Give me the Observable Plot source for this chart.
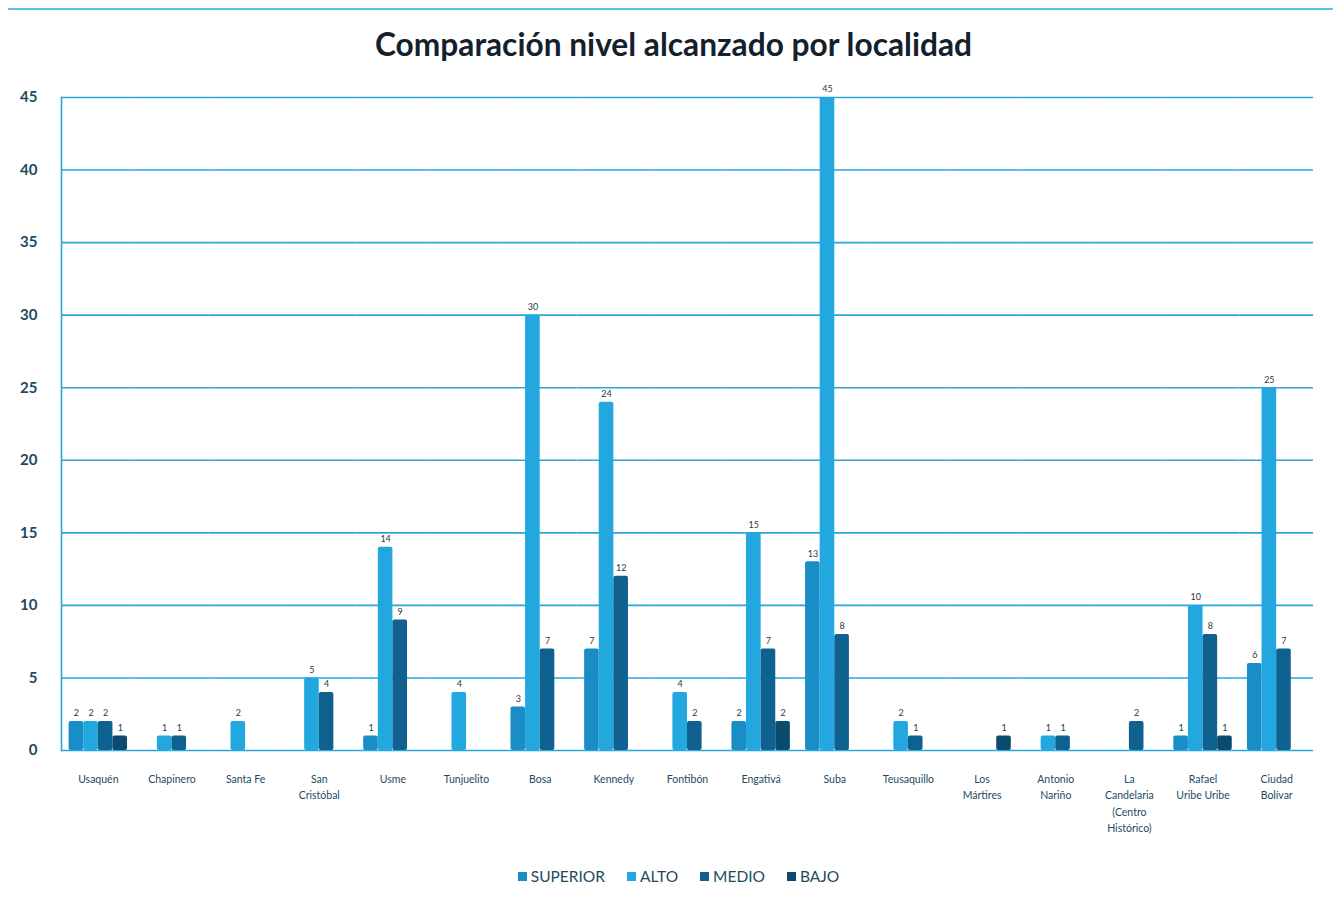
<!DOCTYPE html>
<html>
<head>
<meta charset="utf-8">
<script src="https://cdn.jsdelivr.net/npm/d3@7"></script>
<script src="https://cdn.jsdelivr.net/npm/@observablehq/plot@0.6"></script>
<style>
  html, body { margin: 0; padding: 0; background: #ffffff; }
  body { width: 1333px; height: 899px; position: relative; font-family: Lato, "Open Sans", sans-serif; overflow: hidden; }
  #topline { position: absolute; top: 8px; left: 8px; right: 0; height: 2px; background: #5cc2e4; }
  #title { position: absolute; top: 25px; left: 7px; width: 1333px; text-align: center; font-size: 31.7px; font-weight: bold; color: #14212c; }
  #chart { position: absolute; top: 70px; left: 0; }
  #legend { position: absolute; top: 867px; left: 12px; width: 1333px; display: flex; justify-content: center; gap: 22px; font-size: 15.5px; color: #1d4a60; }
  #legend .item { display: flex; align-items: center; gap: 4px; }
  #legend .sw { width: 9px; height: 9px; display: inline-block; }
</style>
</head>
<body>
<div id="topline"></div>
<div id="title">Comparación nivel alcanzado por localidad</div>
<div id="chart"></div>
<div id="legend"></div>
<script>
const localidades = ["Usaquén","Chapinero","Santa Fe","San Cristóbal","Usme","Tunjuelito","Bosa","Kennedy","Fontibón","Engativá","Suba","Teusaquillo","Los Mártires","Antonio Nariño","La Candelaria (Centro Histórico)","Rafael Uribe Uribe","Ciudad Bolívar"];
const etiquetas = ["Usaquén","Chapinero","Santa Fe","San\nCristóbal","Usme","Tunjuelito","Bosa","Kennedy","Fontibón","Engativá","Suba","Teusaquillo","Los\nMártires","Antonio\nNariño","La\nCandelaria\n(Centro\nHistórico)","Rafael\nUribe Uribe","Ciudad\nBolívar"];
const series = ["SUPERIOR","ALTO","MEDIO","BAJO"];
const superior = [2,0,0,0,1,0,3,7,0,2,13,0,0,0,0,1,6];
const alto     = [2,1,2,5,14,4,30,24,4,15,45,2,0,1,0,10,25];
const medio    = [2,1,0,4,9,0,7,12,2,7,8,1,0,1,2,8,7];
const bajo     = [1,0,0,0,0,0,0,0,0,2,0,0,1,0,0,1,0];
const yTicks = [0,5,10,15,20,25,30,35,40,45];
const colores = ["#1a8cc6","#22a8df","#0f6190","#0b4b70"];

const valores = [superior, alto, medio, bajo];
const datos = [];
localidades.forEach((loc, i) => {
  series.forEach((s, j) => {
    const v = valores[j][i];
    if (v > 0) datos.push({loc, serie: s, valor: v});
  });
});
const etiquetaDe = new Map(localidades.map((l, i) => [l, etiquetas[i]]));

const chart = Plot.plot({
  width: 1333,
  height: 780,
  marginLeft: 61,
  marginRight: 20,
  marginTop: 27,
  marginBottom: 100,
  style: {fontFamily: "Lato, 'Open Sans', sans-serif", background: "transparent"},
  fx: {domain: localidades, padding: 0, round: false, label: null},
  x: {domain: series, paddingInner: 0, paddingOuter: 0.52, round: false, axis: null},
  y: {domain: [0, 45], label: null},
  color: {domain: series, range: colores},
  marks: [
    Plot.ruleY(yTicks, {stroke: "#2aa6da", strokeWidth: 1.6}),
    Plot.frame({anchor: "left", facet: "super", stroke: "#2aa6da", strokeWidth: 1.6}),
    Plot.barY(datos, {fx: "loc", x: "serie", y: "valor", fill: "serie", rx: 2}),
    Plot.text(datos, {fx: "loc", x: "serie", y: "valor", text: d => String(d.valor), dy: -8, fontSize: 9, fill: "#2b3a44"}),
    Plot.axisY(yTicks, {anchor: "left", tickSize: 0, tickPadding: 24, fill: "#1d4a60", fontSize: 15, fontWeight: "bold", label: null}),
    Plot.axisFx({anchor: "bottom", tickSize: 0, tickPadding: 21, fontSize: 10.5, lineHeight: 1.55, fill: "#1d4a60", tickFormat: d => etiquetaDe.get(d), label: null})
  ]
});
document.getElementById("chart").appendChild(chart);

const legend = document.getElementById("legend");
series.forEach((s, j) => {
  const item = document.createElement("div");
  item.className = "item";
  const sw = document.createElement("span");
  sw.className = "sw";
  sw.style.background = colores[j];
  const t = document.createElement("span");
  t.textContent = s;
  item.appendChild(sw);
  item.appendChild(t);
  legend.appendChild(item);
});
</script>
</body>
</html>
